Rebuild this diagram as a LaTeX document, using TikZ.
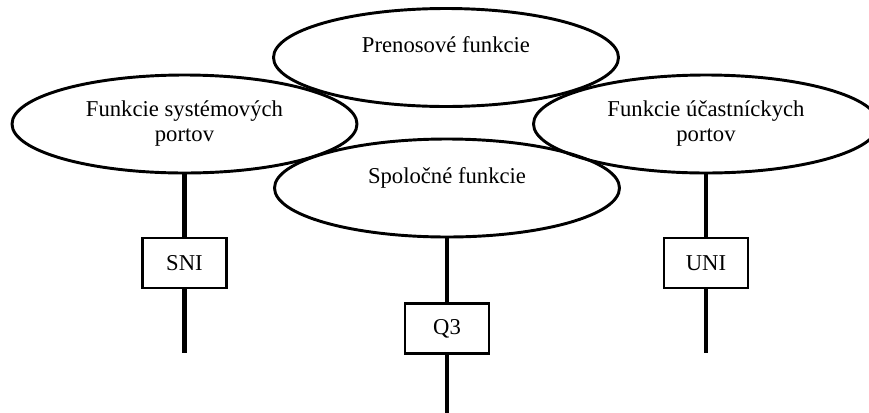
\documentclass[tikz,border=0pt]{standalone}
\usepackage{fontspec}
\setmainfont{Liberation Serif}
\usetikzlibrary{shapes.geometric}

\tikzset{every picture/.style={line width=0.75pt}}
\tikzset{
  oval/.style={draw, ellipse, line width=2.2pt, inner sep=0pt,
    minimum width=258.75pt, minimum height=73.5pt, align=center,
    font=\fontsize{17}{18.75}\selectfont},
  portbox/.style={draw, rectangle, line width=2.2pt, inner sep=0pt,
    minimum width=63pt, minimum height=37.5pt,
    font=\fontsize{17}{18.75}\selectfont},
  wire/.style={line width=3.4pt}
}

\begin{document}
\begin{tikzpicture}[x=0.75pt,y=0.75pt,yscale=-1,xscale=1]
		\useasboundingbox (0,0) rectangle (869,412);
		
		%Shape: Ellipse [prenos]
		\node[oval] (prenos) at (446,57.5) {Prenosové funkcie\\\mbox{}};
		%Shape: Ellipse [system]
		\node[oval] (system) at (184.5,124) {Funkcie systémových\\portov};
		%Shape: Ellipse [ucast]
		\node[oval] (ucast) at (706,124) {Funkcie účastníckych\\portov};
		%Shape: Ellipse [spol]
		\node[oval] (spol) at (447,188) {Spoločné funkcie\\\mbox{}};
		
		%Shape: Rectangle [sni]
		\node[portbox] (sni) at (184.5,263) {SNI};
		%Shape: Rectangle [q3]
		\node[portbox] (q3) at (447,328.5) {Q3};
		%Shape: Rectangle [uni]
		\node[portbox] (uni) at (706,263) {UNI};
		
		%Free ends
		\coordinate (sniend) at (184.5,353);
		\coordinate (q3end) at (447,416);
		\coordinate (uniend) at (706,353);
		
		%Straight Lines
		\draw[wire] (system.south) -- (sni.north) ;
		\draw[wire] (sni.south) -- (sniend) ;
		\draw[wire] (spol.south) -- (q3.north) ;
		\draw[wire] (q3.south) -- (q3end) ;
		\draw[wire] (ucast.south) -- (uni.north) ;
		\draw[wire] (uni.south) -- (uniend) ;
\end{tikzpicture}
\end{document}
